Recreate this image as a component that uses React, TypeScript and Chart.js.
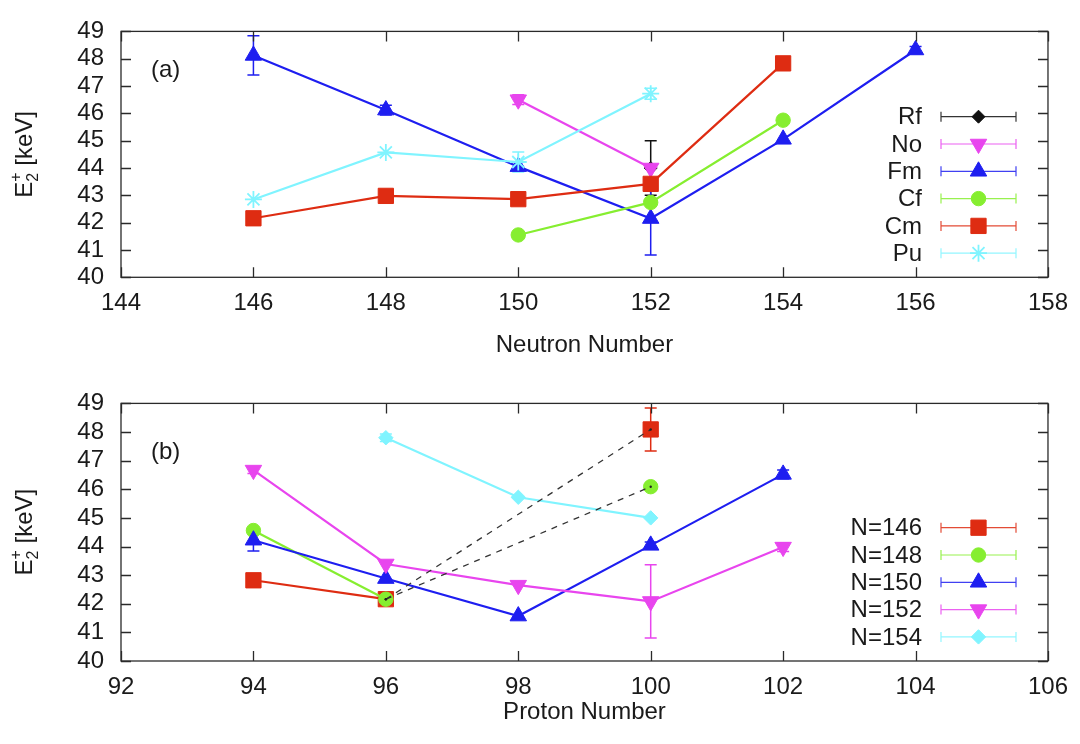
import React, { useEffect, useRef } from "react";
import { Chart, registerables } from "chart.js";
import { drawPoint } from "chart.js/helpers";

Chart.register(...registerables);

// ---------------- DATA ----------------
// Panel (a): E(2+) vs neutron number
const neutronNumbers = [146, 148, 150, 152, 154, 156];
const neutronTicks = [144, 146, 148, 150, 152, 154, 156, 158];
const rfE = [null, null, null, 44.0, null, null];
const rfErr = [0, 0, 0, 1.0, 0, 0];
const noE = [null, null, 46.5, 44.0, null, null];
const noErr = [0, 0, 0.18, 0, 0, 0];
const fmE = [48.12, 46.12, 44.05, 42.15, 45.05, 48.32];
const fmErr = [0.72, 0.18, 0, 1.33, 0, 0.13];
const cfE = [null, null, 41.55, 42.74, 45.75, null];
const cfErr = [0, 0, 0, 0, 0, 0];
const cmE = [42.16, 42.98, 42.86, 43.42, 47.83, null];
const cmErr = [0, 0, 0, 0, 0, 0];
const puE = [42.85, 44.57, 44.22, 46.72, null, null];
const puErr = [0, 0, 0.37, 0.2, 0, 0];

// Panel (b): E(2+) vs proton number
const protonNumbers = [94, 96, 98, 100, 102];
const protonTicks = [92, 94, 96, 98, 100, 102, 104, 106];
const n146E = [42.82, 42.16, null, 48.09, null];
const n146Err = [0, 0, 0, 0.75, 0];
const n148E = [44.56, 42.16, null, 46.09, null];
const n148Err = [0, 0, 0, 0, 0];
const n150E = [44.22, 42.88, 41.57, 44.04, 46.52];
const n150Err = [0.38, 0, 0, 0.12, 0.15];
const n152E = [46.67, 43.39, 42.65, 42.08, 43.98];
const n152Err = [0.12, 0, 0, 1.28, 0.15];
const n154E = [null, 47.8, 45.72, 45.0, null];
const n154Err = [0, 0.13, 0, 0, 0];
// dashed links (96 -> 100) for N=146 and N=148
const dashLinkX = [96, 100];
const dashLinkA = [42.16, 48.09];
const dashLinkB = [42.16, 46.09];

const energyTicks = [40, 41, 42, 43, 44, 45, 46, 47, 48, 49];

// ---------------- STYLE ----------------
const FONT = "'Liberation Sans', Arial, Helvetica, sans-serif";
const TEXT = "#1a1a1a";
const C_BLACK = "#111111";
const C_MAG = "#e845ee";
const C_BLUE = "#1e1ef0";
const C_GREEN = "#86ee30";
const C_RED = "#de2c12";
const C_CYAN = "#80f4ff";

type Series = {
  label: string;
  values: (number | null)[];
  errors: number[];
  color: string;
  style: string;
  rotation: number;
  radius: number;
};

const topSeries: Series[] = [
  { label: "Rf", values: rfE, errors: rfErr, color: C_BLACK, style: "rectRot", rotation: 0, radius: 6.5 },
  { label: "No", values: noE, errors: noErr, color: C_MAG, style: "triangle", rotation: 180, radius: 9.5 },
  { label: "Fm", values: fmE, errors: fmErr, color: C_BLUE, style: "triangle", rotation: 0, radius: 9.5 },
  { label: "Cf", values: cfE, errors: cfErr, color: C_GREEN, style: "circle", rotation: 0, radius: 7.2 },
  { label: "Cm", values: cmE, errors: cmErr, color: C_RED, style: "rect", rotation: 0, radius: 10.8 },
  { label: "Pu", values: puE, errors: puErr, color: C_CYAN, style: "star", rotation: 0, radius: 8.5 },
];

const bottomSeries: Series[] = [
  { label: "N=146", values: n146E, errors: n146Err, color: C_RED, style: "rect", rotation: 0, radius: 10.8 },
  { label: "N=148", values: n148E, errors: n148Err, color: C_GREEN, style: "circle", rotation: 0, radius: 7.2 },
  { label: "N=150", values: n150E, errors: n150Err, color: C_BLUE, style: "triangle", rotation: 0, radius: 9.5 },
  { label: "N=152", values: n152E, errors: n152Err, color: C_MAG, style: "triangle", rotation: 180, radius: 9.5 },
  { label: "N=154", values: n154E, errors: n154Err, color: C_CYAN, style: "rectRot", rotation: 0, radius: 7.2 },
];

type PanelCfg = {
  xs: number[];
  xTicks: number[];
  series: Series[];
  dashed: { xs: number[]; ys: number[] }[];
  plotTop: number;
  plotBottom: number;
  canvasH: number;
  panelLabel: string;
  xTitle: string;
  xTitleY: number;
  legendY0: number;
};

const PLOT_LEFT = 121;
const PLOT_RIGHT = 1049.5;
const ROW_STEP = 27.3;

function buildChart(canvas: HTMLCanvasElement, p: PanelCfg) {
  const datasets: any[] = [];
  const n = p.series.length;
  p.series.forEach((s, i) => {
    datasets.push({
      label: s.label,
      data: p.xs.map((x, k) => ({ x, y: s.values[k] })),
      borderColor: s.color,
      backgroundColor: s.color,
      borderWidth: 2.2,
      pointStyle: s.style,
      pointRotation: s.rotation,
      pointRadius: s.radius,
      pointBackgroundColor: s.color,
      pointBorderColor: s.color,
      pointBorderWidth: s.style === "star" ? 1.8 : 1,
      spanGaps: false,
      tension: 0,
      order: n - i,
    });
  });
  p.dashed.forEach((d) => {
    datasets.push({
      label: "",
      data: d.xs.map((x, k) => ({ x, y: d.ys[k] })),
      borderColor: "#333333",
      borderWidth: 1.3,
      borderDash: [6, 6],
      pointRadius: 1.2,
      pointBackgroundColor: "#222",
      pointBorderWidth: 0,
      order: -1,
    });
  });

  const xMin = p.xTicks[0];
  const xMax = p.xTicks[p.xTicks.length - 1];

  const errPlugin = {
    id: "errbars",
    beforeDatasetsDraw(chart: any) {
      const ctx = chart.ctx;
      const xs = chart.scales.x;
      const ys = chart.scales.y;
      ctx.save();
      p.series.forEach((s) => {
        ctx.strokeStyle = s.color;
        ctx.lineWidth = 1.5;
        p.xs.forEach((x, k) => {
          const v = s.values[k];
          const e = s.errors[k];
          if (v == null || !e) return;
          const px = xs.getPixelForValue(x);
          const y1 = ys.getPixelForValue(v + e);
          const y2 = ys.getPixelForValue(v - e);
          ctx.beginPath();
          ctx.moveTo(px, y1);
          ctx.lineTo(px, y2);
          ctx.moveTo(px - 6, y1);
          ctx.lineTo(px + 6, y1);
          ctx.moveTo(px - 6, y2);
          ctx.lineTo(px + 6, y2);
          ctx.stroke();
        });
      });
      ctx.restore();
    },
  };

  const decoPlugin = {
    id: "deco",
    afterDraw(chart: any) {
      const ctx = chart.ctx;
      const a = chart.chartArea;
      const xs = chart.scales.x;
      const ys = chart.scales.y;
      ctx.save();
      // frame
      ctx.strokeStyle = "#2a2a2a";
      ctx.lineWidth = 1.3;
      ctx.strokeRect(a.left, a.top, a.right - a.left, a.bottom - a.top);
      // inner ticks
      ctx.beginPath();
      p.xTicks.forEach((t) => {
        const px = Math.round(xs.getPixelForValue(t)) + 0.5;
        ctx.moveTo(px, a.bottom);
        ctx.lineTo(px, a.bottom - 10);
        ctx.moveTo(px, a.top);
        ctx.lineTo(px, a.top + 10);
      });
      energyTicks.forEach((t) => {
        const py = Math.round(ys.getPixelForValue(t)) + 0.5;
        ctx.moveTo(a.left, py);
        ctx.lineTo(a.left + 10, py);
        ctx.moveTo(a.right, py);
        ctx.lineTo(a.right - 10, py);
      });
      ctx.stroke();

      // panel label
      ctx.fillStyle = TEXT;
      ctx.font = `24px ${FONT}`;
      ctx.textAlign = "left";
      ctx.textBaseline = "middle";
      ctx.fillText(p.panelLabel, 151, p.plotTop + 55);

      // x title
      ctx.textAlign = "center";
      ctx.fillText(p.xTitle, (a.left + a.right) / 2, p.xTitleY);

      // y title: E_2^+ [keV]
      const cy = (a.top + a.bottom) / 2;
      ctx.translate(31.5, cy);
      ctx.rotate(-Math.PI / 2);
      ctx.textBaseline = "alphabetic";
      ctx.textAlign = "left";
      ctx.font = `24px ${FONT}`;
      const wE = ctx.measureText("E").width;
      const wRest = ctx.measureText(" [keV]").width;
      ctx.font = `16px ${FONT}`;
      const wSub = Math.max(ctx.measureText("2").width, ctx.measureText("+").width);
      const total = wE + wSub + wRest;
      const x0 = -total / 2;
      ctx.font = `24px ${FONT}`;
      ctx.fillText("E", x0, 0);
      ctx.font = `16px ${FONT}`;
      ctx.fillText("2", x0 + wE, 6);
      ctx.fillText("+", x0 + wE, -11);
      ctx.font = `24px ${FONT}`;
      ctx.fillText(" [keV]", x0 + wE + wSub, 0);
      ctx.setTransform(1, 0, 0, 1, 0, 0);

      // legend
      const textRight = 922;
      const lx0 = 941;
      const lx1 = 1016;
      const mx = 978.5;
      p.series.forEach((s, i) => {
        const y = p.legendY0 + i * ROW_STEP;
        ctx.fillStyle = TEXT;
        ctx.font = `24px ${FONT}`;
        ctx.textAlign = "right";
        ctx.textBaseline = "middle";
        ctx.fillText(s.label, textRight, y + 1);
        ctx.strokeStyle = s.color;
        ctx.globalAlpha = 0.85;
        ctx.lineWidth = 1.2;
        ctx.beginPath();
        ctx.moveTo(lx0, y);
        ctx.lineTo(lx1, y);
        ctx.moveTo(lx0, y - 5);
        ctx.lineTo(lx0, y + 5);
        ctx.moveTo(lx1, y - 5);
        ctx.lineTo(lx1, y + 5);
        ctx.stroke();
        ctx.globalAlpha = 1;
        ctx.fillStyle = s.color;
        ctx.strokeStyle = s.color;
        ctx.lineWidth = s.style === "star" ? 1.8 : 1;
        drawPoint(ctx, { pointStyle: s.style, rotation: s.rotation, radius: s.radius, borderWidth: ctx.lineWidth }, mx, y);
      });
      ctx.restore();
    },
  };

  return new Chart(canvas, {
    type: "line",
    data: { datasets },
    plugins: [errPlugin, decoPlugin],
    options: {
      animation: false,
      responsive: false,
      devicePixelRatio: 1,
      layout: { padding: { left: 0, right: 1080 - PLOT_RIGHT, top: p.plotTop, bottom: 0 } },
      plugins: { legend: { display: false }, tooltip: { enabled: false } },
      scales: {
        x: {
          type: "linear",
          min: xMin,
          max: xMax,
          afterBuildTicks: (s: any) => {
            s.ticks = p.xTicks.map((v) => ({ value: v }));
          },
          afterFit: (s: any) => {
            s.height = p.canvasH - p.plotBottom;
          },
          grid: { display: false, drawTicks: false },
          border: { display: false },
          ticks: {
            padding: 12,
            color: TEXT,
            font: { family: FONT, size: 24 },
            maxRotation: 0,
            autoSkip: false,
            callback: (v: any) => String(v),
          },
        },
        y: {
          type: "linear",
          min: 40,
          max: 49,
          afterBuildTicks: (s: any) => {
            s.ticks = energyTicks.map((v) => ({ value: v }));
          },
          afterFit: (s: any) => {
            s.width = PLOT_LEFT;
          },
          grid: { display: false, drawTicks: false },
          border: { display: false },
          ticks: {
            padding: 17,
            color: TEXT,
            font: { family: FONT, size: 24 },
            autoSkip: false,
            callback: (v: any) => String(v),
          },
        },
      },
    },
  } as any);
}

const TOP_H = 372;
const BOT_H = 372;

const topPanel: PanelCfg = {
  xs: neutronNumbers,
  xTicks: neutronTicks,
  series: topSeries,
  dashed: [],
  plotTop: 15,
  plotBottom: 277.3,
  canvasH: TOP_H,
  panelLabel: "(a)",
  xTitle: "Neutron Number",
  xTitleY: 345,
  legendY0: 116.7,
};

const bottomPanel: PanelCfg = {
  xs: protonNumbers,
  xTicks: protonTicks,
  series: bottomSeries,
  dashed: [
    { xs: dashLinkX, ys: dashLinkA },
    { xs: dashLinkX, ys: dashLinkB },
  ],
  plotTop: 397.4 - TOP_H,
  plotBottom: 661 - TOP_H,
  canvasH: BOT_H,
  panelLabel: "(b)",
  xTitle: "Proton Number",
  xTitleY: 712.5 - TOP_H,
  legendY0: 527.7 - TOP_H,
};

export default function App() {
  const topRef = useRef<HTMLCanvasElement | null>(null);
  const botRef = useRef<HTMLCanvasElement | null>(null);

  useEffect(() => {
    const c1 = buildChart(topRef.current!, topPanel);
    const c2 = buildChart(botRef.current!, bottomPanel);
    return () => {
      c1.destroy();
      c2.destroy();
    };
  }, []);

  return (
    <div style={{ position: "absolute", left: 0, top: 0, width: 1080, height: 744, background: "#ffffff" }}>
      <canvas ref={topRef} width={1080} height={TOP_H} style={{ display: "block", width: 1080, height: TOP_H }} />
      <canvas ref={botRef} width={1080} height={BOT_H} style={{ display: "block", width: 1080, height: BOT_H }} />
    </div>
  );
}
